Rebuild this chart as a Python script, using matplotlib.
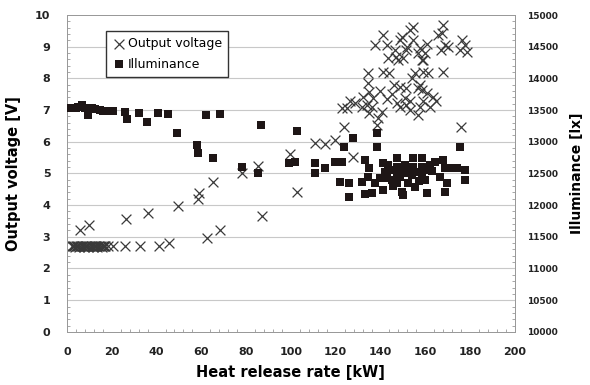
import numpy as np
import matplotlib.pyplot as plt
from matplotlib.ticker import MultipleLocator

plt.rcParams['font.family'] = ['DejaVu Sans']

# Output voltage [V] vs heat release rate [kW]
volt_x = [2, 2.5, 3, 3.5, 4, 4.5, 5, 5.5, 6, 6.5, 7, 7.5, 8, 8.5, 9, 9.5, 10, 10.5, 11, 11.5,
          12, 12.5, 13, 13.5, 14, 14.5, 15, 15.5, 16, 16.5, 17, 18.5, 20.5, 26, 32.6, 41, 45.5,
          6, 10, 26.3, 36, 49.7, 58.4, 59, 65, 62.3, 68.3, 87, 102.5, 78, 85.5, 99.5,
          110.7, 115, 119.6, 123.7, 127.7, 138.4, 176,
          122.8, 125, 131.7, 133.9, 136, 135, 140.6, 139, 147.3, 148.7, 151.6, 157.6, 156.7, 153,
          141, 137.5, 142.9, 143.3, 146.4, 147.8, 149.6, 153, 154.5, 151.6, 156.7, 159, 160.7,
          134.4, 134.4, 141, 144, 132, 135, 136.6, 126.3, 128.6,
          148.7, 151.6, 153, 156.7, 159, 150.9, 154, 155.4, 157.6,
          168, 165.8, 167.5, 168.8, 170, 167, 176.3, 177.7, 178.5, 175.4, 157.6, 159.8, 158.5,
          161, 159, 168, 158.5, 160.7, 163.4, 165, 162,
          154.6, 152, 150, 147, 148.6, 145, 146, 143, 140]
volt_y = [2.7, 2.72, 2.7, 2.68, 2.7, 2.72, 2.7, 2.68, 2.7, 2.72, 2.7, 2.68, 2.7, 2.72, 2.7, 2.68,
          2.7, 2.72, 2.7, 2.68, 2.7, 2.72, 2.7, 2.68, 2.7, 2.72, 2.7, 2.68, 2.7, 2.72, 2.7,
          2.7, 2.72, 2.72, 2.7, 2.72, 2.8,
          3.2, 3.38, 3.56, 3.75, 3.97, 4.2, 4.39, 4.74, 2.97, 3.22, 3.66, 4.41, 5.0, 5.24, 5.6,
          5.95, 5.92, 6.05, 6.47, 5.52, 6.53, 6.47,
          7.07, 7.07, 7.1, 7.16, 7.1, 6.9, 6.94, 6.75, 7.22, 7.1, 7.16, 7.1, 6.85, 7.0,
          9.37, 9.05, 9.05, 8.64, 8.9, 8.58, 9.3, 9.53, 9.2, 8.9, 8.8, 8.58, 9.1,
          8.17, 7.85, 8.2, 8.17, 7.4, 7.57, 7.38, 7.3, 7.22,
          7.73, 7.7, 7.3, 7.7, 7.3, 7.38, 8.0, 8.17, 7.8,
          9.68, 9.37, 9.43, 9.05, 9.0, 8.9, 9.21, 9.05, 8.83, 8.9, 8.96, 8.8, 8.58,
          8.17, 8.2, 8.2, 7.63, 7.54, 7.41, 7.3, 7.1,
          9.62, 9.0, 8.64, 8.68, 9.2, 7.5, 7.8, 7.35, 7.6]

# Illuminance [lx] vs heat release rate [kW]
illum_x = [1.5, 2.7, 4.0, 5.0, 6.7, 8.0, 9.4, 11.0, 12.5, 14.7, 16.0, 18.0, 20.5, 26.0, 26.8,
           32.0, 35.7, 40.6, 45.0, 49.0, 58.0, 58.6, 62.0, 65.0, 68.3, 78.0, 85.3, 86.6,
           99.0, 101.8, 102.7, 110.7, 110.7, 115.0, 119.6, 123.0, 121.9, 126.0, 126.0,
           123.7, 127.7, 131.7,
           138.4, 175.4, 133, 134.8, 134.4, 133, 136, 137.5, 139.7, 141, 142, 141, 143.3, 142.9,
           147.3, 147.3, 147.3, 147.3, 149.5, 150, 150.9, 150.9, 152.2, 154, 154.5, 154.5, 155.4,
           158.5, 158.5, 158.5, 160.7, 162, 164.3, 166.5, 167.9, 168.8, 168.8, 169.6, 171, 174,
           177.7, 177.7, 138.4,
           144, 145, 148.5, 152, 156, 160, 163, 145.5, 161, 157]
illum_y = [13525, 13535, 13535, 13550, 13580, 13535, 13425, 13525, 13515, 13500, 13490, 13485, 13485, 13475, 13360,
           13450, 13310, 13450, 13440, 13140, 12950, 12825, 13425, 12745, 13440, 12600, 12500, 13265,
           12665, 12685, 13170, 12665, 12500, 12585, 12685, 12685, 12365, 12350, 12130,
           12920, 13060, 12365,
           12920, 12920, 12715, 12585, 12445, 12175, 12190, 12350, 12430, 12665, 12525, 12240, 12635, 12430,
           12745, 12600, 12475, 12350, 12210, 12160, 12635, 12510, 12350, 12475, 12745, 12600, 12285,
           12745, 12600, 12475, 12190, 12635, 12680, 12445, 12715, 12585, 12210, 12350, 12585, 12585,
           12550, 12400, 13140,
           12560, 12400, 12440, 12560, 12520, 12400, 12540, 12300, 12560, 12380]

fig = plt.figure(figsize=(5.9, 3.85), dpi=100)
ax = fig.add_axes([0.1136, 0.138, 0.759, 0.823])
ax2 = ax.twinx()

ax.set_xlim(0, 200)
ax.set_ylim(0, 10)
ax2.set_ylim(10000, 15000)

for v in range(1, 10):
    ax.axhline(v, color='#c8c8c8', lw=0.8, zorder=0)

h1 = ax.scatter(volt_x, volt_y, marker='x', s=50, color='#3a3a3a', linewidths=0.9, zorder=3,
                label='Output voltage')
h2 = ax2.scatter(illum_x, illum_y, marker='s', s=32, color='#1e1616', linewidths=0, zorder=3,
                 label='Illuminance')

ax.xaxis.set_major_locator(MultipleLocator(20))
ax.yaxis.set_major_locator(MultipleLocator(1))
ax.yaxis.set_minor_locator(MultipleLocator(0.2))
ax.xaxis.set_minor_locator(MultipleLocator(4))
ax2.yaxis.set_major_locator(MultipleLocator(500))
ax2.yaxis.set_minor_locator(MultipleLocator(100))

ax.tick_params(axis='both', which='major', length=0, labelsize=8, colors='#222222')
ax.tick_params(axis='y', which='major', pad=12)
ax.tick_params(axis='x', which='major', pad=11)
ax.tick_params(axis='both', which='minor', direction='in', length=2, color='#999999')
ax2.tick_params(axis='y', which='major', length=0, labelsize=6.5, pad=9, colors='#222222')
ax2.tick_params(axis='y', which='minor', direction='in', length=2, color='#999999')
for lab in ax.get_xticklabels() + ax.get_yticklabels() + ax2.get_yticklabels():
    lab.set_fontweight('bold')

for a in (ax, ax2):
    for s in a.spines.values():
        s.set_color('#999999')
        s.set_linewidth(0.7)

ax.set_xlabel('Heat release rate [kW]', fontsize=10.5, fontweight='bold', labelpad=6)
ax.set_ylabel('Output voltage [V]', fontsize=10.5, fontweight='bold', labelpad=10)
ax2.set_ylabel('Illuminance [lx]', fontsize=10, fontweight='bold', labelpad=8)

ax2.legend(handles=[h1, h2], loc='upper left', bbox_to_anchor=(0.072, 0.97), fontsize=9,
           frameon=True, fancybox=False, edgecolor='#333333', framealpha=1,
           handletextpad=0.1, borderpad=0.5, labelspacing=0.6, handlelength=1.2)

fig.savefig('out.png', dpi=100)
